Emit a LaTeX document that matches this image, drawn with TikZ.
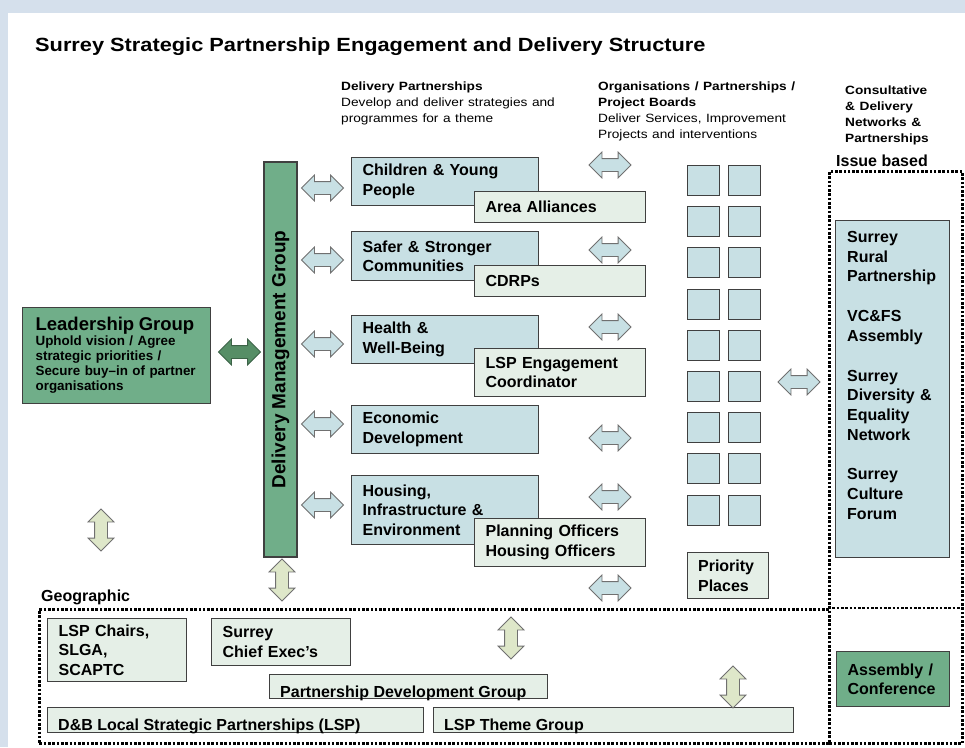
\documentclass[tikz,border=0pt]{standalone}
\usepackage{fontspec}
\setmainfont{Liberation Sans}
\usetikzlibrary{shapes.arrows}
\definecolor{bgband}{RGB}{213,224,236}
\definecolor{dgreen}{RGB}{112,174,137}
\definecolor{darrow}{RGB}{86,142,102}
\definecolor{lblue}{RGB}{200,224,228}
\definecolor{lgreen}{RGB}{229,239,231}
\definecolor{larrow}{RGB}{222,231,201}
\definecolor{edge}{RGB}{64,64,64}
\newcommand{\myfs}[2]{\fontsize{#1}{#2}\selectfont}
\newcommand{\hwide}[1]{\scalebox{1.14}[1]{#1}}
\begin{document}
\begin{tikzpicture}[x=1pt,y=-1pt,
  box/.style={draw=edge, line width=1.2pt, anchor=north west, inner xsep=11pt, inner ysep=0pt, align=left, font=\bfseries\myfs{16}{19.5}},
  sq/.style={draw=edge, fill=lblue, line width=1pt, minimum width=32pt, minimum height=30pt, inner sep=0pt, anchor=north west},
  harrow/.style={shape=double arrow, draw=edge!75, line width=0.8pt, fill=lblue, minimum height=42pt, inner xsep=0pt, inner ysep=6pt, double arrow head extend=6.5pt},
  varrow/.style={harrow, fill=larrow, rotate=90},
  dots/.style={line width=2.8pt, dash pattern=on 2.6pt off 1.7pt},
  dotbox/.style={draw=black, dots, anchor=north west, inner sep=0pt},
  txt/.style={anchor=base west, inner sep=0pt, align=left}
]
\fill[bgband] (0,0) rectangle (965,747);
\fill[white] (8,13) rectangle (965,747);
\useasboundingbox (0,0) rectangle (965,747);

% headings
\node[txt, font=\bfseries\myfs{19.1}{22}] (title) at (35,51) {\hwide{Surrey Strategic Partnership Engagement and Delivery Structure}};
\node[txt, text width=250pt, font=\myfs{12}{16}] (hdp) at (341,90) {\textbf{\hwide{Delivery Partnerships}}\\\hwide{Develop and deliver strategies and}\\\hwide{programmes for a theme}};
\node[txt, text width=250pt, font=\myfs{12}{16.3}] (horg) at (598,90) {\textbf{\hwide{Organisations / Partnerships /}}\\\textbf{\hwide{Project Boards}}\\\hwide{Deliver Services, Improvement}\\\hwide{Projects and interventions}};
\node[txt, text width=110pt, font=\bfseries\myfs{12}{16.2}] (hcons) at (845,94) {\hwide{Consultative}\\\hwide{\& Delivery}\\\hwide{Networks \&}\\\hwide{Partnerships}};
\node[txt, font=\bfseries\myfs{16}{19}] (issue) at (836,166) {Issue based};
\node[txt, font=\bfseries\myfs{16}{19}] (geog) at (41,601) {Geographic};

% dotted frames
\node[dotbox, minimum width=790pt, minimum height=134pt] (geo) at (38,608) {};
\node[dotbox, minimum width=133pt, minimum height=572pt] (iss) at (828,170) {};
\draw[dots] (iss.west |- geo.north) -- (iss.east |- geo.north);

% leadership and DMG
\node[box, fill=dgreen, inner xsep=13pt, text width=162pt, minimum width=188pt, minimum height=96pt, font=\bfseries\myfs{13.4}{15}] (lead) at (22,307)
  {{\myfs{18.5}{22}Leadership Group}\\Uphold vision / Agree\\strategic priorities /\\Secure buy–in of partner\\organisations};
\node[draw=edge, line width=1.2pt, fill=dgreen, minimum width=395pt, minimum height=33pt, inner sep=0pt, rotate=90, font=\bfseries\myfs{19}{22}] (dmg) at (280.5,359.5) {Delivery Management Group};

% theme boxes
\node[box, fill=lblue, text width=165pt, minimum width=187pt, minimum height=48pt] (cyp) at (351,157) {Children \& Young\\People};
\node[box, fill=lblue, text width=165pt, minimum width=187pt, minimum height=49pt] (ssc) at (351,231) {Safer \& Stronger\\Communities};
\node[box, fill=lblue, text width=165pt, minimum width=187pt, minimum height=48pt] (hwb) at (351,315) {Health \&\\Well-Being};
\node[box, fill=lblue, text width=165pt, minimum width=187pt, minimum height=48pt] (eco) at (351,405) {Economic\\Development};
\node[box, fill=lblue, text width=165pt, minimum width=187pt, minimum height=69pt] (hie) at (351,475) {Housing,\\Infrastructure \&\\Environment};

\node[box, fill=lgreen, text width=149pt, minimum width=171pt, minimum height=31pt] (aa) at (474,191) {Area Alliances};
\node[box, fill=lgreen, text width=149pt, minimum width=171pt, minimum height=31pt] (cdrp) at (474,265) {CDRPs};
\node[box, fill=lgreen, text width=149pt, minimum width=171pt, minimum height=48pt] (lspe) at (474,348) {LSP Engagement\\Coordinator};
\node[box, fill=lgreen, text width=149pt, minimum width=171pt, minimum height=48pt] (plan) at (474,518) {Planning Officers\\Housing Officers};

% squares
\foreach \i in {0,...,8} {
  \node[sq] (sqa\i) at (687,165+41.2*\i) {};
  \node[sq] (sqb\i) at (728,165+41.2*\i) {};
}
\node[box, fill=lgreen, inner xsep=10.5pt, text width=60pt, minimum width=81pt, minimum height=46pt] (prio) at (687,552) {Priority\\Places};

% networks
\node[box, fill=lblue, minimum width=114pt, minimum height=337pt] (net) at (835,220) {};
\node[txt, text width=100pt, font=\bfseries\myfs{16}{19.7}] (nett) at (847,242.5)
  {Surrey\\Rural\\Partnership\\[20pt]VC\&FS\\Assembly\\[20pt]Surrey\\Diversity \&\\Equality\\Network\\[20pt]Surrey\\Culture\\Forum};
\node[box, fill=dgreen, text width=91pt, minimum width=113pt, minimum height=55pt] (asm) at (836,651) {Assembly /\\Conference};

% geographic boxes
\node[box, fill=lgreen, text width=117pt, minimum width=139pt, minimum height=63pt] (chairs) at (47,618) {LSP Chairs,\\SLGA,\\SCAPTC};
\node[box, fill=lgreen, text width=117pt, minimum width=139pt, minimum height=47pt] (chief) at (211,618) {Surrey\\Chief Exec’s};
\node[box, fill=lgreen, minimum width=278pt, minimum height=24pt] (pdg) at (269,674) {};
\node[txt, font=\bfseries\myfs{16}{19}] (pdgt) at (280,697) {Partnership Development Group};
\node[box, fill=lgreen, minimum width=376pt, minimum height=25pt] (dbl) at (47,707) {};
\node[txt, font=\bfseries\myfs{16}{19}] (dblt) at (58,730) {D\&B Local Strategic Partnerships (LSP)};
\node[box, fill=lgreen, minimum width=360pt, minimum height=25pt] (thm) at (433,707) {};
\node[txt, font=\bfseries\myfs{16}{19}] (thmt) at (444,730) {LSP Theme Group};

% arrows
\node[harrow, fill=darrow, draw=darrow!70!black] (alead) at (239.5,352) {};
\foreach \y [count=\i] in {188,260,344,424,505} \node[harrow] (al\i) at (322.5,\y) {};
\foreach \y [count=\i] in {165,250,327,438,497,588} \node[harrow] (ar\i) at (610,\y) {};
\node[harrow] (anet) at (799,382) {};
\node[varrow] (v1) at (101,530) {};
\node[varrow] (v2) at (282,580) {};
\node[varrow] (v3) at (511,638) {};
\node[varrow] (v4) at (733,687) {};
\end{tikzpicture}
\end{document}
